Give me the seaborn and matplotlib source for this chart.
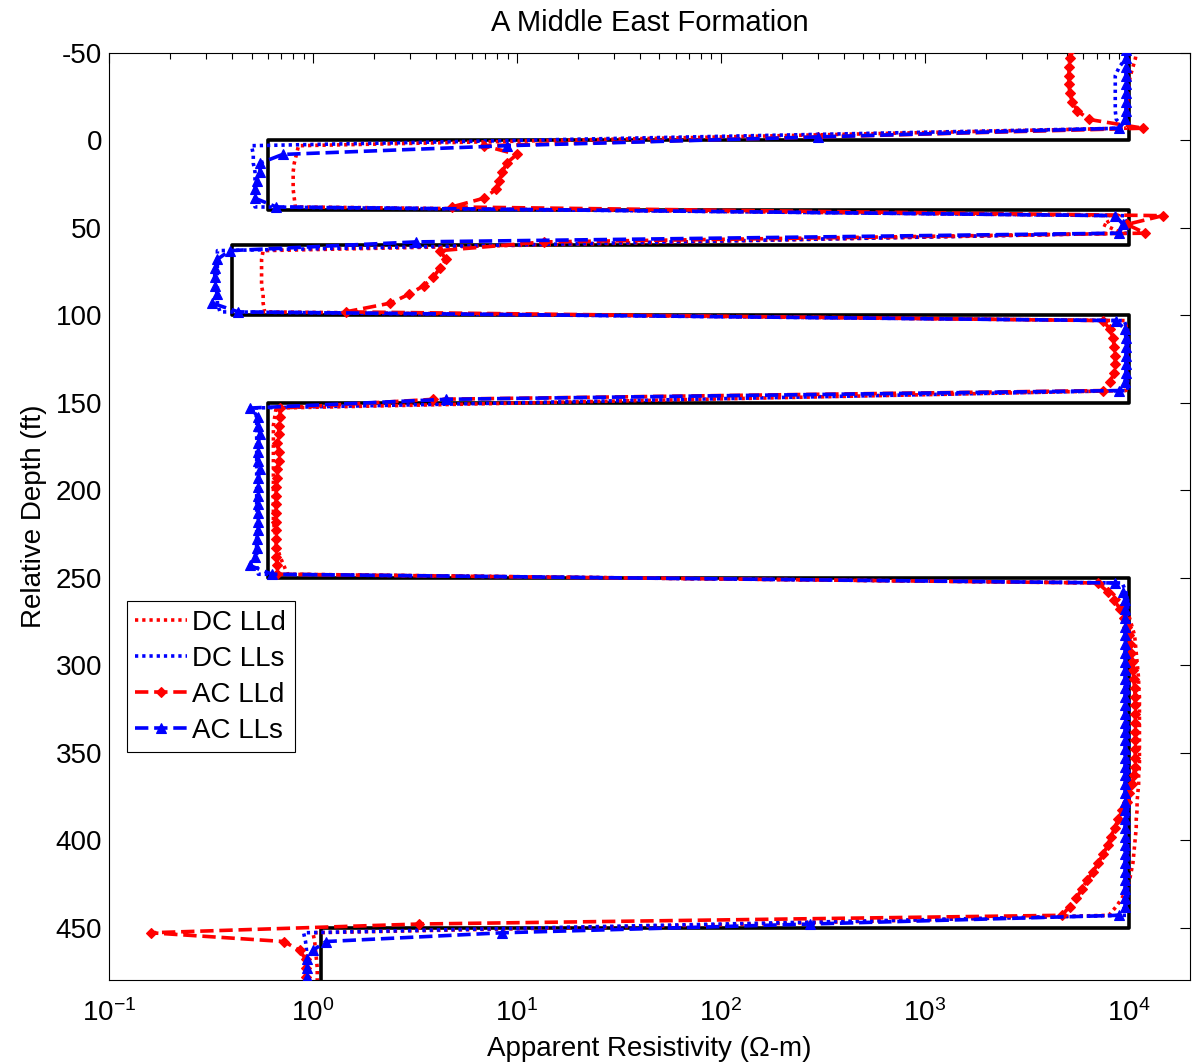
import numpy as np
import pandas as pd
import matplotlib
matplotlib.use("Agg")
import matplotlib.pyplot as plt
import seaborn as sns
from matplotlib.ticker import LogLocator, FixedLocator

# ---------------- data ----------------
depth = [-52, -47, -42, -37, -32, -27, -22, -17, -12, -7,
         -2, 3, 8, 13, 18, 23, 28, 33, 38, 43,
         48, 53, 58, 63, 68, 73, 78, 83, 88, 93,
         98, 103, 108, 113, 118, 123, 128, 133, 138, 143,
         148, 153, 158, 163, 168, 173, 178, 183, 188, 193,
         198, 203, 208, 213, 218, 223, 228, 233, 238, 243,
         248, 253, 258, 263, 268, 273, 278, 283, 288, 293,
         298, 303, 308, 313, 318, 323, 328, 333, 338, 343,
         348, 353, 358, 363, 368, 373, 378, 383, 388, 393,
         398, 403, 408, 413, 418, 423, 428, 433, 438, 443,
         448, 453, 458, 463, 468, 473, 478, 483]

dc_lld = [11000, 10800, 10500, 10200, 10000, 9900, 9900, 9800, 9800, 9800,
          100, 0.85, 0.83, 0.81, 0.80, 0.80, 0.80, 0.81, 0.82, 9000,
          7500, 9300, 66, 0.57, 0.56, 0.56, 0.56, 0.56, 0.57, 0.57,
          0.58, 9600, 9800, 9800, 9800, 9800, 9800, 9800, 9800, 9700,
          80, 0.66, 0.65, 0.64, 0.64, 0.64, 0.64, 0.64, 0.64, 0.64,
          0.64, 0.64, 0.64, 0.64, 0.64, 0.65, 0.66, 0.67, 0.69, 0.72,
          0.75, 7200, 8200, 9000, 9700, 10100, 10400, 10700, 10800, 10900,
          11000, 11100, 11200, 11200, 11300, 11300, 11300, 11300, 11300, 11300,
          11300, 11300, 11300, 11200, 11200, 11100, 11000, 11000, 10900, 10900,
          10800, 10700, 10600, 10500, 10300, 10100, 9800, 9300, 8700, 8000,
          150, 1.00, 1.02, 1.03, 1.04, 1.05, 1.05, 1.05]

dc_lls = [9800, 9700, 9000, 8600, 8600, 8600, 8600, 8600, 8700, 9500,
          70, 0.50, 0.51, 0.51, 0.52, 0.52, 0.52, 0.52, 0.52, 9500,
          9900, 9900, 58, 0.34, 0.34, 0.34, 0.34, 0.34, 0.34, 0.34,
          0.35, 9500, 9900, 9900, 9900, 9900, 9900, 9900, 9900, 9900,
          70, 0.50, 0.53, 0.53, 0.53, 0.53, 0.53, 0.53, 0.53, 0.53,
          0.53, 0.53, 0.53, 0.53, 0.53, 0.53, 0.53, 0.53, 0.53, 0.53,
          0.54, 9300, 9700, 9900, 9900, 9900, 9900, 9900, 9900, 9900,
          9900, 9900, 9900, 9900, 9900, 9900, 9900, 9900, 9900, 9900,
          9900, 9900, 9900, 9900, 9900, 9900, 9900, 9900, 9900, 9900,
          9900, 9900, 9900, 9900, 9900, 9900, 9900, 9900, 9900, 9800,
          100, 0.90, 0.92, 0.93, 0.93, 0.93, 0.93, 0.93]

ac_lld = [5200, 5150, 5100, 5100, 5100, 5150, 5300, 5600, 6400, 11800,
          300, 6.9, 10.0, 8.9, 8.5, 8.2, 7.9, 6.9, 4.8, 14700,
          9800, 12100, 13.6, 4.2, 4.5, 4.2, 3.9, 3.5, 2.95, 2.4,
          1.45, 7500, 8100, 8400, 8500, 8600, 8600, 8500, 8100, 7500,
          3.9, 0.69, 0.69, 0.68, 0.68, 0.67, 0.68, 0.68, 0.67, 0.67,
          0.66, 0.66, 0.66, 0.66, 0.66, 0.66, 0.66, 0.66, 0.66, 0.67,
          0.67, 7050, 7900, 8500, 9100, 9500, 9800, 10000, 10200, 10300,
          10400, 10500, 10600, 10700, 10750, 10800, 10800, 10800, 10800, 10800,
          10800, 10750, 10700, 10600, 10400, 10100, 9800, 9300, 8900, 8550,
          8200, 7900, 7500, 7100, 6700, 6250, 5900, 5550, 5150, 4700,
          3.3, 0.16, 0.72, 0.86, 0.92, 0.92, 0.92, 0.92]

ac_lls = [9700, 9700, 9700, 9700, 9700, 9700, 9700, 9700, 9600, 9000,
          300, 8.9, 0.71, 0.55, 0.55, 0.53, 0.52, 0.52, 0.66, 8600,
          9400, 9000, 3.2, 0.39, 0.34, 0.33, 0.33, 0.33, 0.34, 0.32,
          0.43, 8700, 9600, 9700, 9700, 9700, 9700, 9700, 9600, 9000,
          4.5, 0.49, 0.54, 0.54, 0.55, 0.54, 0.54, 0.54, 0.55, 0.54,
          0.54, 0.54, 0.54, 0.54, 0.54, 0.54, 0.53, 0.53, 0.52, 0.49,
          0.63, 8600, 9400, 9600, 9600, 9600, 9600, 9600, 9600, 9600,
          9600, 9600, 9600, 9600, 9600, 9600, 9600, 9600, 9600, 9600,
          9600, 9600, 9600, 9600, 9600, 9600, 9600, 9600, 9600, 9600,
          9600, 9600, 9600, 9600, 9600, 9600, 9600, 9600, 9600, 9000,
          275, 8.5, 1.16, 1.0, 0.94, 0.94, 0.94, 0.94]

model_depth = [-60, 0, 0, 40, 40, 60, 60, 100, 100, 150, 150, 250, 250, 450, 450, 490]
model_r = [10000, 10000, 0.6, 0.6, 10000, 10000, 0.4, 0.4, 10000, 10000,
           0.6, 0.6, 10000, 10000, 1.1, 1.1]

series_names = ["DC LLd", "DC LLs", "AC LLd", "AC LLs"]
x_ticks = [0.1, 1, 10, 100, 1000, 10000]
y_ticks = [-50, 0, 50, 100, 150, 200, 250, 300, 350, 400, 450]

# ---------------- style ----------------
sns.set_style("white")
plt.rcParams["font.family"] = ["Liberation Sans", "DejaVu Sans"]
plt.rcParams["axes.unicode_minus"] = False
plt.rcParams["text.color"] = "black"
plt.rcParams["axes.labelcolor"] = "black"
plt.rcParams["xtick.color"] = "black"
plt.rcParams["ytick.color"] = "black"
plt.rcParams["mathtext.fontset"] = "custom"
plt.rcParams["mathtext.rm"] = "Liberation Sans"
plt.rcParams["mathtext.it"] = "Liberation Sans:italic"
plt.rcParams["mathtext.bf"] = "Liberation Sans:bold"

FS = 20
W, H = 1194, 1063
fig = plt.figure(figsize=(W / 100, H / 100), dpi=100)
ax = fig.add_axes([109 / W, 1 - 980 / H, 1081 / W, 927 / H])
ax.set_xscale("log")

lw = 2.6
sns.lineplot(x=model_r, y=model_depth, sort=False, estimator=None, ax=ax,
             color="black", linewidth=lw, linestyle="-", zorder=2)

dot = (0, (0.9, 1.1))
specs = [
    (dc_lld, "#ff0000", dot, None, 0),
    (dc_lls, "#0000ff", dot, None, 0),
    (ac_lld, "#ff0000", "--", "D", 5),
    (ac_lls, "#0000ff", "--", "^", 7),
]
for (vals, col, ls, mk, ms), name in zip(specs, series_names):
    df = pd.DataFrame({"R": vals, "depth": depth})
    kw = dict(color=col, linewidth=lw, linestyle=ls, label=name, zorder=3)
    if mk is not None:
        kw.update(marker=mk, markersize=ms, markeredgecolor=col,
                  markerfacecolor=col, markeredgewidth=0.8)
    sns.lineplot(data=df, x="R", y="depth", sort=False, estimator=None,
                 ax=ax, **kw)

ax.set_xlim(0.1, 2e4)
ax.set_ylim(480, -50)
ax.xaxis.set_major_locator(FixedLocator(x_ticks))
ax.xaxis.set_minor_locator(LogLocator(base=10, subs=np.arange(2, 10), numticks=30))
ax.set_yticks(y_ticks)
ax.set_yticklabels([str(v) for v in y_ticks])

ax.tick_params(which="both", direction="in", top=True, right=True,
               color="black", labelsize=FS, labelcolor="black")
ax.tick_params(which="major", length=7.5, width=0.8)
ax.tick_params(which="minor", length=4.5, width=0.8)
ax.tick_params(axis="x", which="major", pad=14)
ax.tick_params(axis="y", which="major", pad=5)
for s in ax.spines.values():
    s.set_color("black")
    s.set_linewidth(0.8)

ax.set_title("A Middle East Formation", fontsize=21, pad=16, color="black")
ax.set_xlabel("Apparent Resistivity (\u03a9-m)", fontsize=FS, labelpad=6)
ax.set_ylabel("Relative Depth (ft)", fontsize=FS, labelpad=6)

leg = ax.legend(loc="lower left", bbox_to_anchor=(0.0167, 0.246), fontsize=FS,
                frameon=True, fancybox=False, edgecolor="black", framealpha=1,
                handlelength=1.85, handletextpad=0.2, borderpad=0.3,
                labelspacing=0.36, borderaxespad=0)
leg.get_frame().set_linewidth(0.8)
for t in leg.get_texts():
    t.set_color("black")

fig.savefig("out.png", dpi=100)
